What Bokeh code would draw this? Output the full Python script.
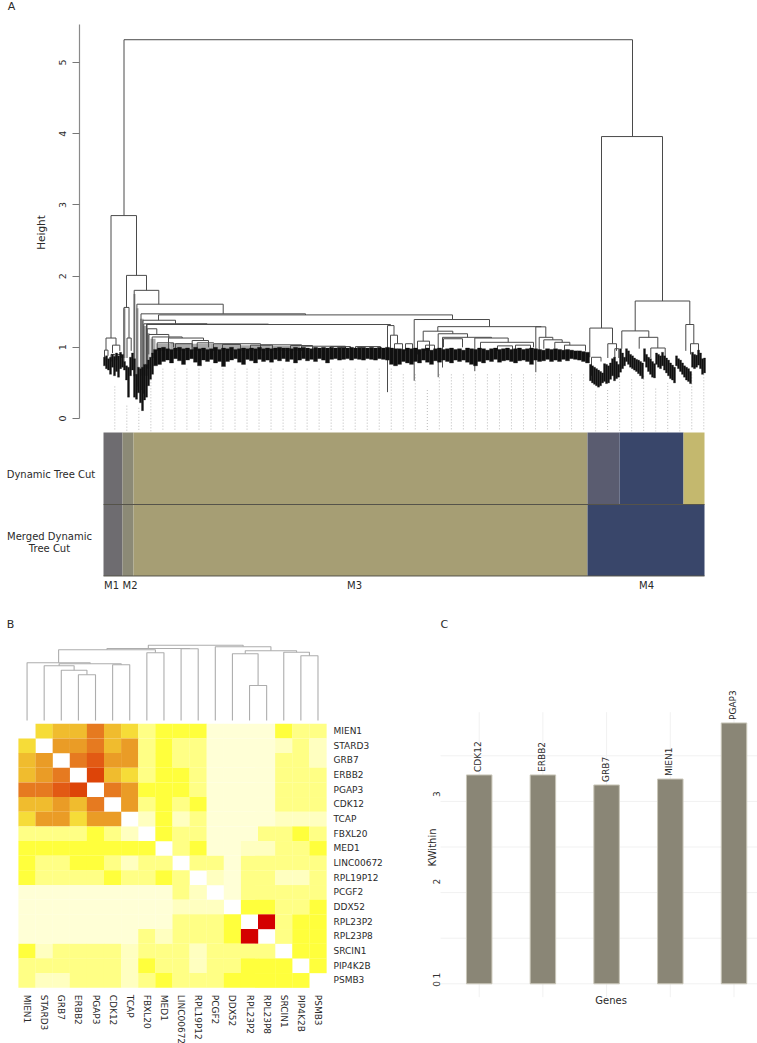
from math import pi
import numpy as np
from bokeh.plotting import figure
from bokeh.layouts import column, row
from bokeh.models import Label, FixedTicker, Range1d, LinearColorMapper, ColumnDataSource
from bokeh.core.properties import value
from bokeh.embed import file_html
from bokeh.resources import INLINE

FONT = "DejaVu Sans"
INK = "#2a2a2a"

# ---------- panel A: dendrogram (x = leaf position, h = merge height)
merge_left = [123.5,110.5,105.5,112,104,110.5,116.5,126,123.5,126.5,133.7,136.4,140.5,158,142.4,143.3,146,146.5,387,390,394,
              146.7,148.3,151.7,156.7,168,175,191.7,196.7,213,260,301,
              413.7,437.3,422.7,417,437.7,442,443,474.3,480,535.3,538.7,543.3,554.3,564,
              601,589.3,591,607.3,614.3,634.7,621.3,638.7,650.3,685.3,690,
              222,250,290,330,355,405,425,497,515]
merge_right = [632,136,115.5,119.3,107.5,114.5,121,146,128.5,130.7,158.3,222.7,305,452,175,206.7,268,390,393.5,397,402,
               156.3,168.3,181.7,173,203,191.7,208,213.3,260,301,345,
               489,540.7,452.3,429,467,491,462,507.7,533,545.3,552.3,561.7,569.3,585,
               662,612,600.5,616,618.3,689.3,648.3,657.3,664.7,693.3,698,
               240,272,312,350,380,412,434,512,530]
merge_h = [5.32,2.85,1.13,1.03,.96,.90,.90,2.01,1.56,1.13,1.80,1.605,1.47,1.455,1.38,1.33,1.325,1.32,1.305,1.17,1.05,
           1.26,1.18,1.145,1.063,1.13,1.05,1.095,1.063,1.05,1.035,1.015,
           1.39,1.29,1.226,1.086,1.19,1.14,1.12,1.13,1.07,1.287,1.14,1.105,1.07,1.03,
           3.96,1.27,.86,1.05,.98,1.65,1.23,1.14,.99,1.32,1.05,
           1.04,1.03,1.025,1.01,1.01,1.05,1.03,1.02,1.03]
merge_hl = [2.85,1.13,.96,.92,.85,.80,.82,1.56,.80,.85,.59,.40,.40,1.38,.35,.35,.50,.60,.37,.95,.92,
            .70,.90,.90,.95,.95,.95,.95,.95,.95,.95,.95,
            .53,1.226,1.086,.90,.58,.716,1.0,.664,.98,.65,.95,.98,.98,.93,
            1.27,.86,.60,.85,.85,1.23,.98,.98,.85,.95,.90,
            .95,.95,.95,.95,.95,.95,.95,.95,.95]
merge_hr = [3.96,2.01,1.03,.95,.88,.82,.85,1.80,1.13,.95,1.605,1.47,1.455,1.39,1.33,1.33,1.32,1.305,1.17,1.05,.95,
            1.18,1.13,1.13,1.0,1.095,1.0,1.0,1.063,1.035,1.015,.98,
            1.29,1.287,1.19,.95,1.14,1.13,1.0,1.07,1.0,1.14,1.105,1.07,1.03,.95,
            1.65,1.05,.80,.95,.85,1.32,1.14,.99,.85,1.05,.90,
            .95,.95,.95,.95,.95,.95,.95,.95,.95]

# dense leaf band, read strip by strip: start, width, top and bottom heights
band_left_x = [103,105,107,109,111,113,115,117,119,121,123,125,127,129,131,133,135,137,139,141,143,145,147,149,151]
band_left_top = [.86,.88,.84,.86,.90,.87,.92,.88,.93,.90,.80,.74,.72,.86,.92,.84,.62,.72,.70,.72,.76,.76,.82,.86,.92]
band_left_bot = [.74,.70,.68,.62,.72,.60,.66,.58,.70,.72,.68,.54,.30,.60,.68,.30,.27,.36,.22,.11,.26,.30,.46,.55,.62]

band_mid_x = list(range(153, 589, 4))
band_mid_top = [.97,.99,1.0,.98,.97,.99,1.0,.98,.99,.97,1.0,.98,.99,.97,.98,1.0,.97,.99,.98,1.0,.97,.98,.99,.98,.99,.98,1.0,.98,.99,.98,
                .99,1.0,.99,.99,.98,1.0,.99,1.0,.99,.98,1.0,.99,1.0,.99,1.0,.99,1.0,1.0,.99,1.0,.99,1.0,1.0,.99,1.0,.99,1.0,.99,
                1.0,.99,.98,.98,.97,.99,.98,.99,.97,.98,.99,.96,.98,.99,.97,.98,.99,.97,.98,.96,.99,.98,.97,.99,.98,.96,.98,.99,.97,.98,.99,.97,.98,.99,.97,.98,.99,.98,.97,.96,.98,.97,.98,.97,.96,.97,.96,.95,.95,.94,.93]
band_mid_bot = [.74,.76,.80,.82,.78,.84,.81,.76,.82,.84,.79,.74,.82,.80,.83,.78,.80,.73,.80,.82,.84,.79,.76,.83,.81,.78,.83,.80,.82,.79,
                .83,.81,.84,.80,.83,.78,.82,.84,.81,.83,.80,.84,.82,.78,.83,.84,.82,.83,.84,.82,.84,.83,.82,.84,.83,.82,.84,.83,
                .82,.76,.74,.76,.80,.78,.76,.80,.78,.82,.79,.76,.81,.79,.82,.80,.78,.82,.80,.82,.79,.76,.74,.80,.78,.82,.80,.83,.79,.81,.82,.80,.78,.81,.82,.80,.76,.82,.80,.81,.83,.80,.82,.80,.83,.81,.84,.83,.82,.80,.78]

band_right_x = list(range(589, 704, 2))
band_right_top = [.76,.74,.72,.70,.68,.66,.64,.77,.76,.74,.78,.84,.86,.80,.76,.98,.92,.86,.98,.95,.90,.88,.85,.83,.82,.80,.78,.98,.90,.86,.84,
                  .80,.77,.92,.90,.88,.93,.88,.85,.82,.78,.75,.72,.88,.84,.82,.78,.74,.72,.70,.66,.93,.90,.89,.96,.92,.84,.85]
band_right_bot = [.53,.50,.48,.46,.44,.46,.50,.52,.49,.50,.55,.60,.53,.56,.58,.65,.70,.74,.80,.76,.72,.70,.68,.66,.63,.60,.56,.80,.72,.66,.62,
                  .58,.57,.76,.72,.70,.74,.68,.64,.60,.56,.54,.50,.74,.70,.66,.62,.58,.54,.52,.49,.72,.70,.72,.75,.70,.62,.64]

# blurred grey stems above the dense band
haze_left = [122.5,133,136,139.5,143,146.5,150,156,170,190,210,240,270]
haze_right = [125,135,138,143,146,149,155,170,190,210,240,270,300]
haze_top = [1.55,1.75,1.55,1.40,1.30,1.20,1.12,1.05,1.06,1.05,1.05,1.03,1.02]
haze_bot = [.85,.60,.45,.60,.60,.70,.85,.95,.95,.95,.95,.95,.95]

# hanging guides under the leaves
guide_top = [.45,.18,.15,.55,.70,.70,.70,.70,.70,.70,.70,.70,.70,.70,.70,.70,.70,.70,.70,.70,.70,.70,.70,.70,
             .62,.62,.40,.62,.62,.62,.62,.62,.62,.62,.62,.62,.62,.62,.62,.62,.38,.40,.60,.55,.60,.42,.50,.38,.62,.62]

tracks = ["Dynamic Tree Cut", "Merged Dynamic Tree Cut"]
dyn_edges = [103,122,133,587,619,683,704]
dyn_colors = ["#6e6c70","#8c8a76","#a69e74","#5a5c70","#39466a","#c4b86e"]
mrg_edges = [103,122,133,587,704]
mrg_colors = ["#6e6c70","#8c8a76","#a69e74","#39466a"]
module_names = ["M1","M2","M3","M4"]
module_x = [111,129.5,354,646]

# ---------- panel B: topological overlap heat map
genes = ["MIEN1","STARD3","GRB7","ERBB2","PGAP3","CDK12","TCAP","FBXL20","MED1","LINC00672",
         "RPL19P12","PCGF2","DDX52","RPL23P2","RPL23P8","SRCIN1","PIP4K2B","PSMB3"]
N = None
tom_levels = [
 [N,5,6,6,8,6,5,2,3,3,3,0,0,0,0,3,2,2],
 [5,N,7,7,8,6,7,2,3,2,2,0,0,0,0,1,2,1],
 [6,7,N,8,9,7,7,2,3,2,2,0,0,0,0,2,2,1],
 [6,7,8,N,10,6,5,2,3,3,2,0,0,0,0,2,2,2],
 [8,8,9,10,N,8,7,3,3,3,2,0,0,0,0,2,2,2],
 [6,6,7,6,8,N,7,2,3,2,3,0,0,0,0,2,2,2],
 [5,7,7,5,7,7,N,1,3,1,2,0,0,0,0,1,1,1],
 [2,2,2,2,3,2,1,N,3,2,2,0,0,0,2,2,3,2],
 [3,3,3,3,3,3,3,3,N,2,3,0,0,1,1,2,2,3],
 [3,2,2,3,3,2,1,2,2,N,2,2,0,2,2,2,2,2],
 [3,2,2,2,2,3,2,2,3,2,N,1,0,2,2,1,1,2],
 [0,0,0,0,0,0,0,0,0,2,1,N,0,2,2,2,2,2],
 [0,0,0,0,0,0,0,0,0,1,1,1,N,3,3,2,2,3],
 [0,0,0,0,0,0,0,0,0,2,2,2,3,N,11,2,3,3],
 [0,0,0,0,0,0,0,2,1,2,2,2,3,11,N,2,3,3],
 [3,1,2,2,2,2,1,2,2,2,1,2,2,2,2,N,3,3],
 [2,2,2,2,2,2,1,3,2,2,1,2,2,3,3,3,N,3],
 [2,1,1,2,2,2,1,2,3,2,2,2,3,3,3,3,3,N],
]
heat_palette = ["#ffffd6","#ffffc0","#ffff85","#ffff3c","#ffee20","#f6dc38",
                "#f0bc2e","#ea9c26","#e67a20","#e25a14","#dd4408","#d40000"]
# hclust style merges: >=0 leaf index, <0 earlier merge (1-based)
gene_merge_a = [3,2,1,5,-3,0,7,-6,9,-8,13,12,16,15,-12,11,-10]
gene_merge_b = [4,-1,-2,6,-4,-5,8,-7,10,-9,14,-11,17,-13,-14,-15,-16]
gene_merge_h = [45.7,50.3,54.7,55.7,56.7,57.7,67.7,70.7,71.7,72.0,35.0,66.7,64.7,68.3,69.7,73.7,75.3]

# ---------- panel C: KWithin
hub_genes = ["CDK12","ERBB2","GRB7","MIEN1","PGAP3"]
kwithin = [3.29,3.29,3.18,3.245,3.86]
kw_tick_labels = ["0","1","2","3"]
kw_tick_at = [1.0,1.09,2.12,3.08]
kw_grid = [1,1.5,2,2.5,3,3.5]


def note(p, text, x, y, size="10px", angle=0, align="center"):
    p.add_layout(Label(x=x, y=y, text=text, text_font=FONT, text_font_size=size, text_color=INK,
                       angle=angle, text_align=align, text_baseline="middle"))


def bare(width, height, xr, yr, y_side="left"):
    p = figure(width=width, height=height, x_range=xr, y_range=yr, output_backend="svg", toolbar_location=None,
               min_border=0, min_border_left=0, min_border_right=0, min_border_top=0, min_border_bottom=0,
               outline_line_color=None, y_axis_location=y_side)
    p.grid.visible = False
    return p


# ====== A
pa = bare(757, 610, Range1d(0, 757), Range1d(-2.697, 5.871))
pa.xaxis.visible = False
ax = pa.yaxis[0]
ax.fixed_location = 79
ax.ticker = FixedTicker(ticks=[0,1,2,3,4,5])
ax.bounds = (0, 5.53)
ax.major_label_orientation = "vertical"
ax.major_label_text_font = FONT
ax.major_label_text_font_size = "9.5px"
ax.major_label_text_color = INK
ax.major_label_standoff = 6
ax.axis_line_color = "#8a8a8a"
ax.axis_line_width = 1.2
ax.major_tick_line_color = "#777777"
ax.major_tick_out = 7
ax.major_tick_in = 0
ax.minor_tick_line_color = None

guide_x = [114.3 + 12.02 * i for i in range(len(guide_top))]
pa.segment(guide_x, guide_top, guide_x, [-0.18] * len(guide_x), line_color="#a8a8a8", line_width=0.8, line_dash="1 2")

pa.quad(left=haze_left, right=haze_right, top=haze_top, bottom=haze_bot, fill_color="#8c8c8c", line_color=None, fill_alpha=0.75)

xs = [[l, l, r, r] for l, r in zip(merge_left, merge_right)]
ys = [[a, h, h, b] for a, h, b in zip(merge_hl, merge_h, merge_hr)]
pa.multi_line(xs, ys, line_color="#4a4a4a", line_width=1)

for bx, top, bot, w in [(band_left_x, band_left_top, band_left_bot, 2),
                        (band_mid_x, band_mid_top, band_mid_bot, 4),
                        (band_right_x, band_right_top, band_right_bot, 2)]:
    n = min(len(bx), len(top), len(bot))
    bx = np.array(bx[:n], dtype=float)
    pa.quad(left=bx, right=bx + w, top=top[:n], bottom=bot[:n], fill_color="#101010", line_color="#101010", line_width=0.3)

for edges, colors, t, b in [(dyn_edges, dyn_colors, -0.197, -1.208), (mrg_edges, mrg_colors, -1.208, -2.212)]:
    pa.quad(left=edges[:-1], right=edges[1:], top=t, bottom=b, fill_color=colors, line_color=None)
pa.segment([103], [-1.208], [704], [-1.208], line_color="#55534a", line_width=1.2)
pa.segment([103], [-2.212], [704], [-2.212], line_color="#55534a", line_width=1)

hy = lambda y: (418 - y) / 71.2
note(pa, "A", 11, hy(6), "11px")
note(pa, "Height", 40, hy(232), "10.5px", angle=pi / 2)
note(pa, tracks[0], 50.5, hy(474), "10px")
note(pa, "Merged Dynamic", 49, hy(536), "10px")
note(pa, "Tree Cut", 49, hy(548.5), "10px")
for name, x in zip(module_names, module_x):
    note(pa, name, x, hy(585), "10px")

# ====== B
pb = bare(420, 433, Range1d(-1.052, 23.49), Range1d(21.8, -7.725), y_side="right")
pb.extra_y_ranges = {"tree": Range1d(-323, 110)}
ticks = [i + .5 for i in range(18)]
for axis, orient, loc in [(pb.xaxis[0], "vertical", 18), (pb.yaxis[0], "horizontal", 18)]:
    axis.fixed_location = loc
    axis.ticker = FixedTicker(ticks=ticks)
    axis.major_label_overrides = {t: g for t, g in zip(ticks, genes)}
    axis.major_label_orientation = orient
    axis.major_label_text_font = FONT
    axis.major_label_text_font_size = "9px"
    axis.major_label_text_color = INK
    axis.major_label_standoff = 7
    axis.axis_line_color = None
    axis.major_tick_line_color = None
    axis.major_tick_out = 0
    axis.major_tick_in = 0
    axis.minor_tick_line_color = None

cx, cy, lv = [], [], []
for r, line in enumerate(tom_levels):
    for c, v in enumerate(line):
        if v is not None:
            cx.append(c + .5); cy.append(r + .5); lv.append(v)
mapper = LinearColorMapper(palette=heat_palette, low=-0.5, high=11.5)
pb.rect("x", "y", width=1.01, height=1.01, source=ColumnDataSource(dict(x=cx, y=cy, level=lv)),
        fill_color={"field": "level", "transform": mapper}, line_color=None)

# tree over the heat map, built from the merge table
leaf_x = [i + .5 for i in range(18)]
node_x, node_h = {}, {}
tx, ty = [], []
def pos(m):
    return (leaf_x[m], 0) if m >= 0 else (node_x[m], node_h[m])
for k, (a, b, h) in enumerate(zip(gene_merge_a, gene_merge_b, gene_merge_h)):
    (xa, ha), (xb, hb) = pos(a), pos(b)
    tx.append([xa, xa, xb, xb]); ty.append([ha, h, h, hb])
    node_x[-(k + 1)] = (xa + xb) / 2; node_h[-(k + 1)] = h
pb.multi_line(tx, ty, line_color="#adadad", line_width=1.1, y_range_name="tree")

note(pb, "B", -0.47, -6.77, "11px")

# ====== C
pc = bare(337, 433, Range1d(-0.9215, 4.369), Range1d(0.3454, 5.093))
xpos = list(range(len(hub_genes)))
pc.xaxis.visible = False
pc.segment(xpos, [0.853] * 5, xpos, [3.978] * 5, line_color="#f1f1f1", line_width=1)
pc.segment([-0.607] * len(kw_grid), kw_grid, [4.369] * len(kw_grid), kw_grid, line_color="#f1f1f1", line_width=1)
ya = pc.yaxis[0]
ya.fixed_location = -0.607
ya.ticker = FixedTicker(ticks=kw_tick_at)
ya.major_label_overrides = {t: s for t, s in zip(kw_tick_at, kw_tick_labels)}
ya.major_label_orientation = "vertical"
ya.major_label_text_font = FONT
ya.major_label_text_font_size = "9px"
ya.major_label_text_color = "#333333"
ya.major_label_standoff = 1
ya.major_tick_out = 0
ya.major_tick_in = 0
ya.axis_line_color = None
ya.major_tick_line_color = None
ya.minor_tick_line_color = None
pc.vbar(x=xpos, top=kwithin, bottom=1, width=0.4, fill_color="#8a8676", line_color="#c9c6b8", line_width=1)
pc.text(x=xpos, y=kwithin, text=hub_genes, angle=pi / 2, text_font=value(FONT), text_font_size="9px",
        text_color=INK, text_align="left", text_baseline="middle", x_offset=-1, y_offset=-3)
note(pc, "C", -0.547, 1 + (983.3 - 624) / 91.2, "11px")
note(pc, "KWithin", -0.735, 1 + (983.3 - 847) / 91.2, "10px", angle=pi / 2)
note(pc, "Genes", 2.07, 1 + (983.3 - 1000) / 91.2, "10px")

page = column(pa, row(pb, pc, spacing=0), spacing=0)
open("out.html", "w").write(file_html(page, INLINE))
